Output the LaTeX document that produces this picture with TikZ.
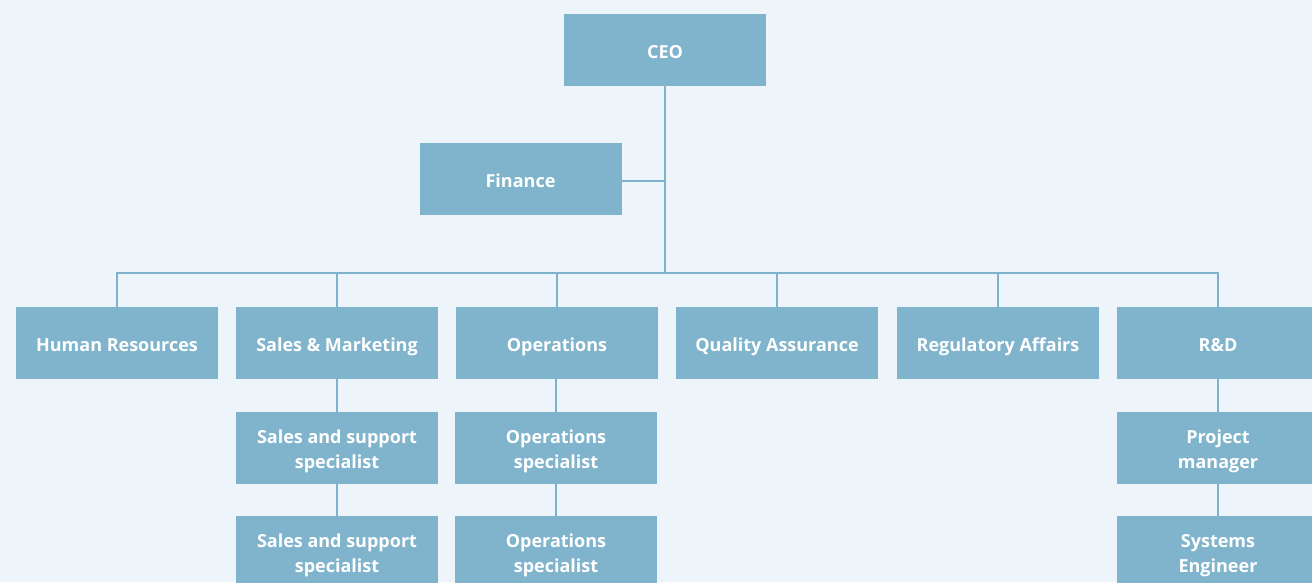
\documentclass[tikz,border=0pt]{standalone}
\usepackage{fontspec}
\setmainfont{Open Sans}
\definecolor{bg}{HTML}{EDF4FA}
\definecolor{boxc}{HTML}{80B4CD}
\definecolor{linec}{HTML}{7FB2CC}
\tikzset{
  x=1pt,y=-1pt,
  orgbox/.style={fill=boxc, draw=none, minimum width=202pt, minimum height=72pt, inner sep=0pt,
    text=white, font=\fontsize{18}{25}\selectfont\bfseries, align=center, text depth=0pt},
  onebox/.style={orgbox, text height=16pt},
  twobox/.style={orgbox, text height=40.5pt},
  conn/.style={draw=linec, line width=2pt}
}
\begin{document}
\begin{tikzpicture}
\useasboundingbox (0,0) rectangle (1312,582);
\clip (0,0) rectangle (1312,582);
\fill[bg] (0,0) rectangle (1312,582);
\coordinate (bus) at (665,273);
\coordinate (fj) at (665,181);
\node[onebox] (ceo) at (665,50) {CEO};
\node[onebox] (fin) at (520.5,179) {Finance};
\node[onebox] (hr) at (117,343) {Human Resources};
\node[onebox] (sm) at (337,343) {Sales \& Marketing};
\node[onebox] (ops) at (557,343) {Operations};
\node[onebox] (qa) at (777,343) {Quality Assurance};
\node[onebox] (ra) at (998,343) {Regulatory Affairs};
\node[onebox] (rd) at (1218,343) {R\&D};
\node[twobox] (ss1) at (337,448) {Sales and support\\specialist};
\node[twobox] (os1) at (556,448) {Operations\\specialist};
\node[twobox] (pm) at (1218,448) {Project\\manager};
\node[twobox] (ss2) at (337,552) {Sales and support\\specialist};
\node[twobox] (os2) at (556,552) {Operations\\specialist};
\node[twobox] (se) at (1218,552) {Systems\\Engineer};
\draw[conn] (ceo.south) -- (bus);
\draw[conn] (fin.east |- fj) -- (fj);
\draw[conn] (hr.north) -- (hr.north |- bus) -- (rd.north |- bus) -- (rd.north);
\foreach \n in {sm,ops,qa,ra} \draw[conn] (\n.north) -- (\n.north |- bus);
\draw[conn] (sm.south) -- (ss1.north);
\draw[conn] (ss1.south) -- (ss2.north);
\draw[conn] (os1.north |- ops.south) -- (os1.north);
\draw[conn] (os1.south) -- (os2.north);
\draw[conn] (rd.south) -- (pm.north);
\draw[conn] (pm.south) -- (se.north);
\end{tikzpicture}
\end{document}
